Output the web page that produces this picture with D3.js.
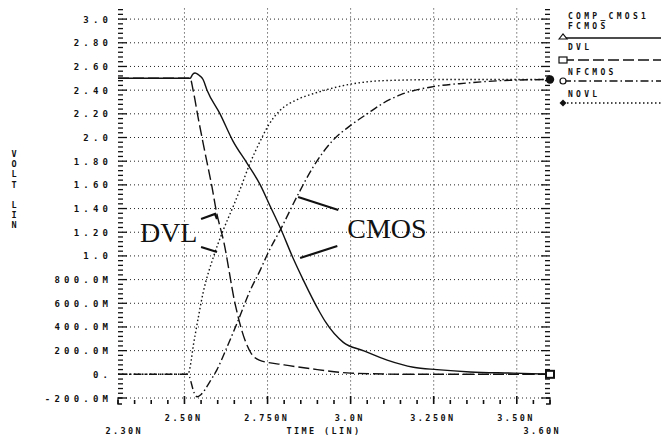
<!DOCTYPE html>
<html>
<head>
<meta charset="utf-8">
<script src="https://cdn.jsdelivr.net/npm/d3@7"></script>
<style>
  body { margin: 0; background: #fff; }
  svg { display: block; }
  .mono { font-family: "DejaVu Sans Mono", monospace; font-weight: bold; fill: #111; }
  .serif { font-family: "Liberation Serif", "Times New Roman", serif; fill: #111; }
</style>
</head>
<body>
<div id="chart"></div>
<script>
// Datos (tiempo en ns, tensión en V)
var fcmosT = [2.30, 2.517, 2.525, 2.532, 2.542, 2.556, 2.568, 2.607, 2.646, 2.689, 2.728, 2.758, 2.788, 2.827, 2.857, 2.908, 2.925, 2.978, 3.038, 3.110, 3.189, 3.260, 3.360, 3.490, 3.600];
var fcmosV = [2.50, 2.50, 2.535, 2.545, 2.53, 2.49, 2.40, 2.20, 1.97, 1.78, 1.60, 1.42, 1.24, 0.98, 0.80, 0.52, 0.44, 0.27, 0.20, 0.12, 0.06, 0.04, 0.02, 0.01, 0.00];

var dvlT = [2.30, 2.517, 2.526, 2.541, 2.562, 2.583, 2.595, 2.619, 2.652, 2.682, 2.700, 2.725, 2.800, 2.900, 3.000, 3.200, 3.600];
var dvlV = [2.50, 2.50, 2.40, 2.17, 1.87, 1.58, 1.39, 1.11, 0.60, 0.29, 0.18, 0.12, 0.08, 0.04, 0.01, 0.00, 0.00];

var nfcmosT = [2.30, 2.510, 2.530, 2.538, 2.550, 2.577, 2.598, 2.628, 2.658, 2.698, 2.728, 2.749, 2.794, 2.842, 2.887, 2.948, 2.999, 3.050, 3.098, 3.149, 3.249, 3.351, 3.450, 3.600];
var nfcmosV = [0.00, 0.00, -0.16, -0.19, -0.17, -0.06, 0.04, 0.23, 0.43, 0.71, 0.88, 1.01, 1.25, 1.52, 1.75, 1.98, 2.10, 2.20, 2.29, 2.36, 2.43, 2.46, 2.48, 2.49];

var novlT = [2.30, 2.510, 2.530, 2.557, 2.587, 2.617, 2.647, 2.667, 2.697, 2.728, 2.752, 2.788, 2.839, 2.899, 2.999, 3.098, 3.300, 3.600];
var novlV = [0.00, 0.00, 0.30, 0.70, 0.99, 1.22, 1.42, 1.56, 1.78, 1.97, 2.10, 2.23, 2.32, 2.38, 2.45, 2.48, 2.49, 2.49];

// Ejes
var yTicks = [3.0, 2.8, 2.6, 2.4, 2.2, 2.0, 1.8, 1.6, 1.4, 1.2, 1.0, 0.8, 0.6, 0.4, 0.2, 0.0, -0.2];
var yLabels = ["3.0", "2.80", "2.60", "2.40", "2.20", "2.0", "1.80", "1.60", "1.40", "1.20", "1.0", "800.0M", "600.0M", "400.0M", "200.0M", "0.", "-200.0M"];
var xTicks = [2.50, 2.75, 3.00, 3.25, 3.50];
var xLabels = ["2.50N", "2.750N", "3.0N", "3.250N", "3.50N"];
var xEndLabels = ["2.30N", "3.60N"];

// Leyenda
var legendNames = ["FCMOS", "DVL", "NFCMOS", "NOVL"];
var legendTitle = "COMP_CMOS1";

// Anotaciones (en unidades de datos)
var notes = [
	{text: "DVL", t: 2.366, v: 1.117},
	{text: "CMOS", t: 2.990, v: 1.151}
];
var pointers = [
	[[2.550, 1.312], [2.592, 1.354], [2.598, 1.312]],
	[[2.550, 1.075], [2.598, 1.033]],
	[[2.842, 1.497], [2.963, 1.388]],
	[[2.848, 0.982], [2.960, 1.084]]
];

var W = 661, H = 438;
var svg = d3.select("#chart").append("svg").attr("width", W).attr("height", H);

var x = d3.scaleLinear().domain([2.3, 3.6]).range([118, 550]);
var y = d3.scaleLinear().domain([-0.2, 3.0]).range([398, 19.1]);
var xL = x(2.3), xR = x(3.6), yB = 404, yTop = y(3.09);

// Rejilla punteada
svg.append("g").selectAll("line").data(yTicks).enter().append("line")
	.attr("x1", xL).attr("x2", xR)
	.attr("y1", function(d) { return y(d); }).attr("y2", function(d) { return y(d); })
	.attr("stroke", "#222").attr("stroke-width", 1).attr("stroke-dasharray", "1,3");
svg.append("g").selectAll("line").data(xTicks).enter().append("line")
	.attr("y1", yTop).attr("y2", yB - 2)
	.attr("x1", function(d) { return x(d); }).attr("x2", function(d) { return x(d); })
	.attr("stroke", "#222").attr("stroke-width", 1).attr("stroke-dasharray", "1,3");

// Marcas de los ejes izquierdo y derecho (cada 0.04 V)
var vt = d3.range(0, 83).map(function(i) { return {v: -0.2 + i * 0.04, major: i % 5 == 0}; });
var tk = svg.append("g").attr("stroke", "#111").attr("stroke-width", 1.3);
vt.forEach(function(d) {
	var len = d.major ? 9 : 5;
	tk.append("line").attr("x1", xL).attr("x2", xL + len).attr("y1", y(d.v)).attr("y2", y(d.v));
	tk.append("line").attr("x1", xR).attr("x2", xR - len).attr("y1", y(d.v)).attr("y2", y(d.v));
});
// Marcas del eje inferior (cada 0.05 ns)
d3.range(0, 27).forEach(function(i) {
	var t = 2.3 + i * 0.05;
	var major = (i + 1) % 5 == 0;
	tk.append("line").attr("x1", x(t)).attr("x2", x(t)).attr("y1", yB).attr("y2", yB - (major ? 8 : 4))
		.attr("stroke-width", 1.6);
});
tk.append("polyline").attr("fill", "none").attr("points", [[xL + 4, yB - 6], [xL, yB - 6], [xL, yB], [xL + 4, yB]].join(" "));
tk.append("polyline").attr("fill", "none").attr("points", [[xR - 4, yB - 6], [xR, yB - 6], [xR, yB], [xR - 4, yB]].join(" "));

// Etiquetas del eje Y
var lsY = 4.2;
svg.append("g").selectAll("text").data(yTicks).enter().append("text")
	.attr("class", "mono")
	.attr("x", 108 + lsY)
	.attr("y", function(d) { return y(d) + 3.5; })
	.attr("text-anchor", "end")
	.style("font-size", "9px").style("letter-spacing", lsY + "px")
	.text(function(d, i) { return yLabels[i]; });

// Etiquetas del eje X
var lsX = 2.4;
svg.append("g").selectAll("text").data(xTicks).enter().append("text")
	.attr("class", "mono")
	.attr("x", function(d) { return x(d) - 2 + lsX / 2; })
	.attr("y", 421)
	.attr("text-anchor", "middle")
	.style("font-size", "8.5px").style("letter-spacing", lsX + "px")
	.text(function(d, i) { return xLabels[i]; });
svg.append("g").selectAll("text").data([2.3, 3.6]).enter().append("text")
	.attr("class", "mono")
	.attr("x", function(d, i) { return x(d) + (i == 0 ? 5 : -9) + lsX / 2; })
	.attr("y", 434)
	.attr("text-anchor", "middle")
	.style("font-size", "8.5px").style("letter-spacing", lsX + "px")
	.text(function(d, i) { return xEndLabels[i]; });
svg.append("text").attr("class", "mono")
	.attr("x", 324).attr("y", 434).attr("text-anchor", "middle")
	.style("font-size", "8.5px").style("letter-spacing", lsX + "px")
	.text("TIME (LIN)");

// Título del eje Y, letras apiladas
var yTitle = ["V", "O", "L", "T", "", "L", "I", "N"];
svg.append("g").selectAll("text").data(yTitle).enter().append("text")
	.attr("class", "mono")
	.attr("x", 14).attr("y", function(d, i) { return 157 + i * 10.2; })
	.attr("text-anchor", "middle")
	.style("font-size", "8.5px")
	.text(function(d) { return d; });

// Series
var styles = [
	{t: fcmosT, v: fcmosV, dash: null},
	{t: dvlT, v: dvlV, dash: "11,4"},
	{t: nfcmosT, v: nfcmosV, dash: "8,3,1.5,3"},
	{t: novlT, v: novlV, dash: "1.5,2.5"}
];
var line = d3.line()
	.x(function(d) { return x(d[0]); })
	.y(function(d) { return y(d[1]); })
	.curve(d3.curveMonotoneX);
styles.forEach(function(s) {
	var pts = s.t.map(function(t, i) { return [t, s.v[i]]; });
	svg.append("path").datum(pts)
		.attr("d", line)
		.attr("fill", "none").attr("stroke", "#111").attr("stroke-width", 1.4)
		.attr("stroke-dasharray", s.dash);
});

// Marcadores al final de las curvas
svg.append("circle").attr("cx", x(3.6)).attr("cy", y(nfcmosV[nfcmosV.length - 1])).attr("r", 4.2).attr("fill", "#111");
svg.append("rect").attr("x", x(3.6) - 4).attr("y", y(dvlV[dvlV.length - 1]) - 3.5).attr("width", 8).attr("height", 7)
	.attr("fill", "#fff").attr("stroke", "#111").attr("stroke-width", 2);

// Leyenda
var lx = 563;
svg.append("text").attr("class", "mono").attr("x", lx + 5).attr("y", 19)
	.style("font-size", "8px").style("letter-spacing", "3.3px").text(legendTitle);
var legY = [38, 60, 81, 103];
var legTextY = [29, 50, 75, 97];
legendNames.forEach(function(name, i) {
	svg.append("text").attr("class", "mono").attr("x", lx + 5).attr("y", legTextY[i])
		.style("font-size", "8px").style("letter-spacing", "3.3px").text(name);
	svg.append("line").attr("x1", lx).attr("x2", W).attr("y1", legY[i]).attr("y2", legY[i])
		.attr("stroke", "#111").attr("stroke-width", 1.3).attr("stroke-dasharray", styles[i].dash);
});
svg.append("path").attr("d", "M" + (lx - 4) + "," + (legY[0] + 1) + "L" + lx + "," + (legY[0] - 4) + "L" + (lx + 4) + "," + (legY[0] + 1) + "Z")
	.attr("fill", "#fff").attr("stroke", "#111").attr("stroke-width", 1.2);
svg.append("rect").attr("x", lx - 4).attr("y", legY[1] - 3).attr("width", 8).attr("height", 6)
	.attr("fill", "#fff").attr("stroke", "#111").attr("stroke-width", 1.2);
svg.append("circle").attr("cx", lx).attr("cy", legY[2]).attr("r", 3)
	.attr("fill", "#fff").attr("stroke", "#111").attr("stroke-width", 1.2);
svg.append("path").attr("d", "M" + (lx - 3.5) + "," + legY[3] + "L" + lx + "," + (legY[3] - 3.5) + "L" + (lx + 3.5) + "," + legY[3] + "L" + lx + "," + (legY[3] + 3.5) + "Z")
	.attr("fill", "#111");

// Anotaciones DVL / CMOS
svg.append("g").selectAll("text").data(notes).enter().append("text")
	.attr("class", "serif")
	.attr("x", function(d) { return x(d.t); })
	.attr("y", function(d) { return y(d.v); })
	.style("font-size", "28px")
	.text(function(d) { return d.text; });
pointers.forEach(function(p) {
	svg.append("polyline").attr("fill", "none").attr("stroke", "#111").attr("stroke-width", 2.2)
		.attr("points", p.map(function(d) { return [x(d[0]), y(d[1])]; }).join(" "));
});
</script>
</body>
</html>
